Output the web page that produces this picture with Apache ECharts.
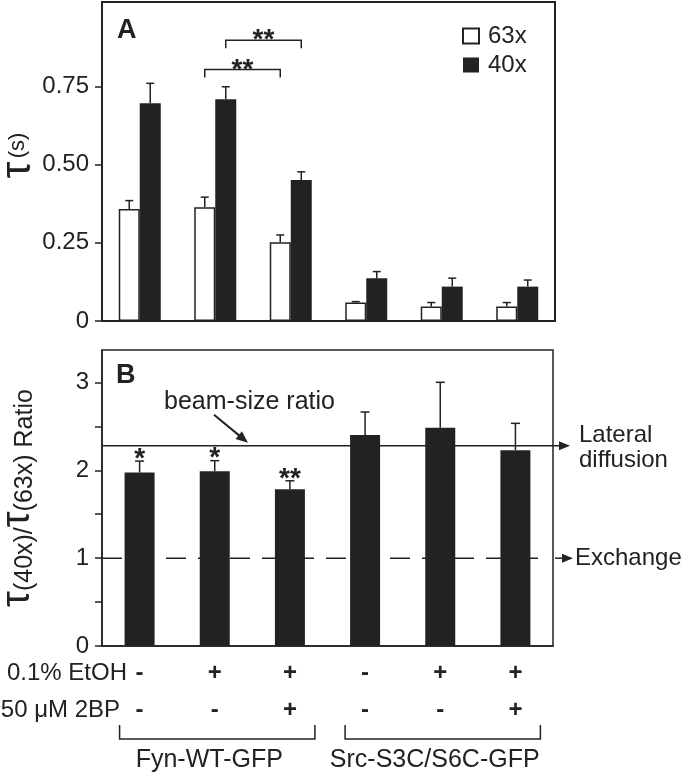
<!DOCTYPE html>
<html><head><meta charset="utf-8">
<script src="https://cdn.jsdelivr.net/npm/echarts@6/dist/echarts.min.js"></script>
<style>html,body{margin:0;padding:0;background:#fff}#c{width:684px;height:774px}</style>
</head><body><div id="c"></div>
<script>
// ---------- data ----------
const etohRow = ['-', '+', '+', '-', '+', '+'];
const bpRow   = ['-', '-', '+', '-', '-', '+'];
const categories = etohRow.map((e, i) => e + '\n' + bpRow[i]);
const seriesNames = ['63x', '40x'];
const tau63    = [0.358, 0.364, 0.252, 0.059, 0.046, 0.046];
const tau63Sem = [0.027, 0.032, 0.023, 0.003, 0.013, 0.013];
const tau40    = [0.696, 0.709, 0.451, 0.137, 0.110, 0.110];
const tau40Sem = [0.064, 0.040, 0.026, 0.021, 0.027, 0.021];
const ratio    = [1.976, 1.990, 1.786, 2.401, 2.485, 2.230];
const ratioSem = [0.129, 0.120, 0.095, 0.263, 0.517, 0.305];
const ratioSig = ['*', '*', '**', '', '', ''];
const tauTickValues = [0, 0.25, 0.5, 0.75];
const ratioLabelValues = [0, 1, 2, 3];
const ratioTickValues = [0, 0.5, 1, 1.5, 2, 2.5, 3];
const beamSizeRatio = 2.28;
const exchangeRatio = 1;
const refLineLabels = ['Lateral\ndiffusion', 'Exchange'];
const beamLabel = 'beam-size ratio';
// significance brackets in A: [fromCategory, toCategory, seriesIndex(0=63x,1=40x), height]
const sigFrom = [1, 1];
const sigTo = [2, 2];
const sigSeries = [0, 1];
const sigHeight = [0.804, 0.898];
const sigText = ['**', '**'];
const groupNames = ['Fyn-WT-GFP', 'Src-S3C/S6C-GFP'];
const groupStart = [0, 3];
const groupEnd = [2, 5];
const rowLabels = ['0.1% EtOH', '50 \u03bcM 2BP'];

// ---------- chart ----------
const FONT = 'Liberation Sans, Arial, Helvetica, sans-serif';
const INK = '#222';
const BAR_A = 21;
const BAR_B = 30;

const chart = echarts.init(document.getElementById('c'), null, {renderer: 'canvas'});

function arrowHead(tip, dir, len, hw) {
  const n = Math.hypot(dir[0], dir[1]);
  const ux = dir[0] / n, uy = dir[1] / n;
  const bx = tip[0] - ux * len, by = tip[1] - uy * len;
  return {type: 'polygon', shape: {points: [[tip[0], tip[1]], [bx - uy * hw, by + ux * hw], [bx + uy * hw, by - ux * hw]]},
          style: {fill: INK}};
}
function seg(x1, y1, x2, y2, w, dash) {
  const s = {stroke: INK, lineWidth: w || 1.5};
  if (dash) s.lineDash = dash;
  return {type: 'line', shape: {x1, y1, x2, y2}, style: s};
}
function txt(t, x, y, size, align, valign, weight, lh) {
  const st = {text: t, x, y, fill: INK, fontSize: size, fontFamily: FONT, fontWeight: weight || 'normal',
              align: align || 'center', verticalAlign: valign || 'middle'};
  if (lh) st.lineHeight = lh;
  return {type: 'text', style: st};
}

const errA = [];
tau63.forEach((v, i) => errA.push([i, v, tau63Sem[i], -1]));
tau40.forEach((v, i) => errA.push([i, v, tau40Sem[i], 1]));
const errB = ratio.map((v, i) => [i, v, ratioSem[i], i]);
const sigData = sigFrom.map((f, i) => [f, sigHeight[i], sigTo[i], sigSeries[i], i]);
const refData = [[0, beamSizeRatio, 0], [0, exchangeRatio, 1]];
const groupData = groupStart.map((s, i) => [s, 0, groupEnd[i], i]);

const option = {
  animation: false,
  textStyle: {fontFamily: FONT, color: INK},
  legend: {
    data: seriesNames.map(n => ({name: n, icon: 'rect'})), orient: 'vertical', left: 457, top: 19,
    itemWidth: 16, itemHeight: 15, itemGap: 5,
    textStyle: {fontSize: 24, color: INK, fontFamily: FONT, padding: [0, 0, 0, 4]},
    selectedMode: false
  },
  grid: [
    {left: 102, top: 2, width: 453, height: 319, show: true, borderColor: INK, borderWidth: 2,
     containLabel: false, outerBoundsMode: 'none'},
    {left: 102, top: 350, width: 451, height: 296, show: true, borderColor: INK, borderWidth: 1.5,
     containLabel: false, outerBoundsMode: 'none'}
  ],
  xAxis: [
    {type: 'category', gridIndex: 0, data: categories, axisLine: {lineStyle: {color: INK, width: 2}},
     axisTick: {show: false}, axisLabel: {show: false}},
    {type: 'category', gridIndex: 1, data: categories, axisLine: {lineStyle: {color: INK, width: 1.5}},
     axisTick: {show: false},
     axisLabel: {interval: 0, margin: 9, fontSize: 24, fontWeight: 'bold', lineHeight: 37, color: INK, fontFamily: FONT}}
  ],
  yAxis: [
    {type: 'value', gridIndex: 0, min: 0, max: 1.02, splitLine: {show: false},
     axisLine: {show: true, lineStyle: {color: INK, width: 2}},
     axisTick: {show: true, length: 7, customValues: tauTickValues, lineStyle: {color: INK, width: 1.5}},
     axisLabel: {customValues: tauTickValues, margin: 13, fontSize: 24, color: INK, fontFamily: FONT,
                 formatter: v => (v === 0 ? '0' : v.toFixed(2))},
     name: '{t|\u03c4} {s|(s)}', nameLocation: 'middle', nameRotate: 90, nameGap: 63, nameMoveOverlap: false,
     nameTextStyle: {padding: [0, 0, 0, 12], rich: {t: {fontSize: 42, fontFamily: FONT, color: INK},
                                                    s: {fontSize: 22, fontFamily: FONT, color: INK}}}},
    {type: 'value', gridIndex: 1, min: 0, max: 3.37, splitLine: {show: false},
     axisLine: {show: true, lineStyle: {color: INK, width: 1.5}},
     axisTick: {show: true, length: 7, customValues: ratioTickValues, lineStyle: {color: INK, width: 1.5}},
     axisLabel: {customValues: ratioLabelValues, margin: 13, fontSize: 24, color: INK, fontFamily: FONT},
     name: '{t|\u03c4}{n|(40x)/}{t|\u03c4}{n|(63x) Ratio}', nameLocation: 'middle', nameRotate: 90, nameGap: 64,
     nameMoveOverlap: false,
     nameTextStyle: {rich: {t: {fontSize: 40, fontFamily: FONT, color: INK, verticalAlign: 'bottom'},
                            n: {fontSize: 25, fontFamily: FONT, color: INK, verticalAlign: 'bottom'}}}}
  ],
  graphic: [
    {type: 'text', left: 117, top: 17, style: {text: 'A', fontSize: 27, fontWeight: 'bold', fontFamily: FONT, fill: INK}},
    {type: 'text', left: 116, top: 362, style: {text: 'B', fontSize: 27, fontWeight: 'bold', fontFamily: FONT, fill: INK}},
    {type: 'text', x: 127, y: 673, style: {text: rowLabels[0], fontSize: 24, fontFamily: FONT, fill: INK, align: 'right', verticalAlign: 'middle'}},
    {type: 'text', x: 120, y: 710, style: {text: rowLabels[1], fontSize: 24, fontFamily: FONT, fill: INK, align: 'right', verticalAlign: 'middle'}}
  ],
  series: [
    {name: '63x', type: 'bar', xAxisIndex: 0, yAxisIndex: 0, data: tau63, barWidth: BAR_A, barGap: '0%',
     itemStyle: {color: '#fff', borderColor: INK, borderWidth: 1.5}},
    {name: '40x', type: 'bar', xAxisIndex: 0, yAxisIndex: 0, data: tau40, barWidth: BAR_A, barGap: '0%',
     itemStyle: {color: INK}},
    {type: 'custom', xAxisIndex: 0, yAxisIndex: 0, data: errA, clip: false, z: 5,
     encode: {x: 0, y: 1},
     renderItem: (params, api) => {
       const c = api.value(0), m = api.value(1), e = api.value(2), side = api.value(3);
       const p0 = api.coord([c, m]), p1 = api.coord([c, m + e]);
       const x = p0[0] + side * BAR_A / 2;
       return {type: 'group', children: [seg(x, p0[1], x, p1[1], 1.5), seg(x - 4, p1[1], x + 4, p1[1], 1.5)]};
     }},
    {type: 'custom', xAxisIndex: 0, yAxisIndex: 0, data: sigData, clip: false, z: 5,
     encode: {x: 0, y: 1},
     renderItem: (params, api) => {
       const f = api.value(0), h = api.value(1), t = api.value(2), s = api.value(3), k = api.value(4);
       const off = (s === 0 ? -1 : 1) * BAR_A / 2;
       const pa = api.coord([f, h]), pb = api.coord([t, h]);
       const xa = pa[0] + off, xb = pb[0] + off, y = pa[1];
       return {type: 'group', children: [
         {type: 'polyline', shape: {points: [[xa, y + 8], [xa, y], [xb, y], [xb, y + 8]]}, style: {stroke: INK, lineWidth: 1.5, fill: null}},
         txt(sigText[k], (xa + xb) / 2, y + 0.5, 28, 'center', 'middle', 'bold')
       ]};
     }},
    {name: 'ratio', type: 'bar', xAxisIndex: 1, yAxisIndex: 1, data: ratio, barWidth: BAR_B,
     itemStyle: {color: INK}, z: 3},
    {type: 'custom', xAxisIndex: 1, yAxisIndex: 1, data: errB, clip: false, z: 5,
     encode: {x: 0, y: 1},
     renderItem: (params, api) => {
       const c = api.value(0), m = api.value(1), e = api.value(2), k = api.value(3);
       const p0 = api.coord([c, m]), p1 = api.coord([c, m + e]);
       const x = p0[0];
       const ch = [seg(x, p0[1], x, p1[1], 1.5), seg(x - 4.5, p1[1], x + 4.5, p1[1], 1.5)];
       if (ratioSig[k]) ch.push(txt(ratioSig[k], x, p1[1] - 2, 28, 'center', 'middle', 'bold'));
       return {type: 'group', children: ch};
     }},
    {type: 'custom', xAxisIndex: 1, yAxisIndex: 1, data: refData, clip: false, z: 2,
     encode: {x: 0, y: 1},
     renderItem: (params, api) => {
       const cs = params.coordSys;
       const kind = api.value(2);
       const y = api.coord([0, api.value(1)])[1];
       const right = cs.x + cs.width;
       const ch = [];
       if (kind === 0) {
         ch.push(seg(cs.x, y, right + 8, y, 1.5));
         ch.push(arrowHead([right + 17, y], [1, 0], 11, 4.5));
         ch.push(txt(refLineLabels[0], right + 26, y + 2, 24, 'left', 'middle', 'normal', 25));
         const start = [cs.x + 112, y - 31], tip = [cs.x + 146, y - 3];
         const d = [tip[0] - start[0], tip[1] - start[1]];
         const n = Math.hypot(d[0], d[1]);
         ch.push(seg(start[0], start[1], tip[0] - d[0] / n * 10, tip[1] - d[1] / n * 10, 2));
         ch.push(arrowHead(tip, d, 12, 5));
         ch.push(txt(beamLabel, cs.x + 147.5, y - 44, 25, 'center', 'middle'));
       } else {
         ch.push(seg(cs.x, y, right - 6, y, 1.5, [20, 12]));
         ch.push(seg(right + 2, y, right + 11, y, 1.5));
         ch.push(arrowHead([right + 20, y], [1, 0], 11, 4.5));
         ch.push(txt(refLineLabels[1], right + 22, y, 24, 'left', 'middle'));
       }
       return {type: 'group', children: ch};
     }},
    {type: 'custom', xAxisIndex: 1, yAxisIndex: 1, data: groupData, clip: false, z: 5,
     encode: {x: 0, y: 1},
     renderItem: (params, api) => {
       const s = api.value(0), e = api.value(2), k = api.value(3);
       const ps = api.coord([s, 0]), pe = api.coord([e, 0]);
       const x1 = ps[0] - 20, x2 = pe[0] + 25, yb = ps[1];
       const yt = yb + 79, yh = yb + 93;
       return {type: 'group', children: [
         {type: 'polyline', shape: {points: [[x1, yt], [x1, yh], [x2, yh], [x2, yt]]}, style: {stroke: INK, lineWidth: 1.5, fill: null}},
         txt(groupNames[k], (x1 + x2) / 2 - 8, yb + 114, 25, 'center', 'middle')
       ]};
     }}
  ]
};
chart.setOption(option);
</script>
</body></html>
